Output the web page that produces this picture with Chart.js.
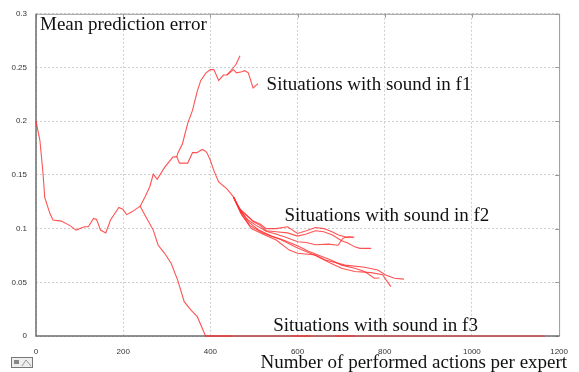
<!DOCTYPE html>
<html>
<head>
<meta charset="utf-8">
<script src="https://cdn.jsdelivr.net/npm/chart.js"></script>
<style>
  html, body { margin: 0; padding: 0; background: #ffffff; }
  #wrap { width: 579px; height: 372px; position: relative; }
</style>
</head>
<body>
<div id="wrap"><canvas id="c" width="579" height="372"></canvas></div>
<script>
// ---- data ----
const xTicks = [0, 200, 400, 600, 800, 1000, 1200];
const yTicks = [0, 0.05, 0.1, 0.15, 0.2, 0.25, 0.3];
const yTickLabels = ["0", "0.05", "0.1", "0.15", "0.2", "0.25", "0.3"];

const yTitle = "Mean prediction error";
const xTitle = "Number of performed actions per expert";
const labelF1 = "Situations with sound in f1";
const labelF2 = "Situations with sound in f2";
const labelF3 = "Situations with sound in f3";

// common start
const baseX = [0, 9, 16, 20, 32, 39, 58, 77, 92, 111, 120, 132, 139, 148, 160, 171, 190, 199, 208, 220, 239];
const baseY = [0.200, 0.182, 0.152, 0.129, 0.114, 0.108, 0.107, 0.103, 0.0986, 0.1017, 0.1017, 0.1095, 0.1085, 0.0986, 0.096, 0.108, 0.1197, 0.118, 0.113, 0.1156, 0.1209];

// f3 branch
const f3X = [239, 250, 269, 280, 295, 310, 325, 340, 355, 370, 389, 1167];
const f3Y = [0.1209, 0.1125, 0.0986, 0.0847, 0.077, 0.0677, 0.052, 0.032, 0.0244, 0.018, 0, 0];
// other f3 runs lying on zero
const f3bX = [389, 450];
const f3bY = [0, 0];
const f3cX = [585, 630];
const f3cY = [0, 0];
const f3dX = [686, 731];
const f3dY = [0, 0];

// f2 main branch
const f2X = [239, 250, 261, 269, 278, 295, 314, 323, 329, 348, 359, 369, 381, 389, 393, 400, 408, 419, 438, 453];
const f2Y = [0.1209, 0.1295, 0.139, 0.1506, 0.146, 0.157, 0.1666, 0.167, 0.161, 0.161, 0.1707, 0.1707, 0.1737, 0.172, 0.170, 0.1635, 0.154, 0.1434, 0.137, 0.1295];

// f1 branches
const f1X = [323, 325, 336, 348, 359, 370, 378, 390, 400, 408, 419, 430, 438, 453, 459, 468];
const f1Y = [0.167, 0.170, 0.179, 0.198, 0.210, 0.228, 0.238, 0.245, 0.248, 0.248, 0.238, 0.243, 0.243, 0.250, 0.253, 0.261];
const f1bX = [438, 453, 460, 472, 479, 487, 498, 509];
const f1bY = [0.243, 0.248, 0.245, 0.246, 0.247, 0.245, 0.231, 0.235];

// f2 bundle
const b1X = [453, 466, 478, 498, 515, 528, 551, 577, 600, 620, 641, 660, 679, 694, 713, 728];
const b1Y = [0.1295, 0.119, 0.1145, 0.107, 0.104, 0.100, 0.100, 0.1017, 0.0955, 0.098, 0.101, 0.100, 0.097, 0.094, 0.092, 0.092];
const b2X = [453, 468, 482, 500, 514, 528, 551, 577, 600, 620, 641, 660, 680, 700, 715, 731, 743, 769];
const b2Y = [0.1295, 0.117, 0.1125, 0.106, 0.103, 0.098, 0.097, 0.096, 0.093, 0.095, 0.098, 0.097, 0.094, 0.089, 0.0866, 0.083, 0.0816, 0.0816];
const b3X = [453, 470, 485, 505, 528, 550, 573, 600, 620, 641, 671, 693, 704, 716, 730];
const b3Y = [0.1295, 0.116, 0.1085, 0.103, 0.0976, 0.095, 0.092, 0.0877, 0.087, 0.085, 0.0855, 0.0845, 0.091, 0.0924, 0.092];
const b4X = [453, 472, 488, 510, 540, 570, 600, 625, 650, 675, 701, 731, 754, 776, 788];
const b4Y = [0.1295, 0.115, 0.106, 0.099, 0.093, 0.089, 0.084, 0.079, 0.075, 0.071, 0.066, 0.063, 0.060, 0.0538, 0.054];
const b5X = [453, 472, 494, 520, 551, 581, 600, 641, 664, 709, 754, 784, 802, 822, 844];
const b5Y = [0.1295, 0.113, 0.100, 0.095, 0.0893, 0.080, 0.077, 0.0754, 0.0708, 0.066, 0.064, 0.0615, 0.0569, 0.0538, 0.053];
const b6X = [453, 470, 490, 520, 560, 600, 641, 675, 701, 731, 769, 795, 806, 814];
const b6Y = [0.1295, 0.114, 0.103, 0.096, 0.090, 0.082, 0.075, 0.068, 0.063, 0.060, 0.059, 0.057, 0.0506, 0.046];

// ---- build ----
const series = [
  [baseX, baseY], [f3X, f3Y], [f3bX, f3bY], [f3cX, f3cY], [f3dX, f3dY],
  [f2X, f2Y], [f1X, f1Y], [f1bX, f1bY],
  [b1X, b1Y], [b2X, b2Y], [b3X, b3Y], [b4X, b4Y], [b5X, b5Y], [b6X, b6Y]
];
const LINE = 'rgba(255,45,45,0.82)';
const datasets = series.map(([xs, ys]) => ({
  data: xs.map((x, i) => ({ x: x, y: ys[i] })),
  borderColor: LINE,
  borderWidth: 1.1,
  pointRadius: 0,
  tension: 0,
  fill: false,
  clip: false
}));

const SERIF = '"Liberation Serif", "Times New Roman", serif';
const SANS = '"Liberation Sans", Arial, sans-serif';

const annotations = [
  { text: labelF1, x: 529, y: 0.2294 },
  { text: labelF2, x: 570, y: 0.107 },
  { text: labelF3, x: 544, y: 0.0049 }
];

const framePlugin = {
  id: 'frame',
  beforeDatasetsDraw(chart) {
    const { ctx, chartArea: a, scales } = chart;
    ctx.save();
    ctx.lineWidth = 1;
    ctx.strokeStyle = '#9a9a9a';
    ctx.beginPath();
    ctx.moveTo(a.left, a.top + 0.5); ctx.lineTo(a.right + 0.5, a.top + 0.5);
    ctx.lineTo(a.right + 0.5, a.bottom);
    ctx.stroke();
    // inner ticks on top and right
    ctx.beginPath();
    xTicks.forEach(v => {
      const px = Math.round(scales.x.getPixelForValue(v)) + 0.5;
      ctx.moveTo(px, a.top); ctx.lineTo(px, a.top + 4);
    });
    yTicks.forEach(v => {
      const py = Math.round(scales.y.getPixelForValue(v)) + 0.5;
      ctx.moveTo(a.right, py); ctx.lineTo(a.right - 4, py);
    });
    ctx.stroke();
    // left & bottom axes
    ctx.strokeStyle = '#6e6e6e';
    ctx.lineWidth = 1.5;
    ctx.beginPath();
    ctx.moveTo(a.left, a.top); ctx.lineTo(a.left, a.bottom);
    ctx.lineTo(a.right + 0.5, a.bottom);
    ctx.stroke();
    ctx.restore();
  },
  afterDraw(chart) {
    const { ctx, chartArea: a, scales } = chart;
    ctx.save();
    ctx.fillStyle = '#111';
    ctx.font = '19px ' + SERIF;
    ctx.textBaseline = 'alphabetic';
    ctx.textAlign = 'left';
    ctx.fillText(yTitle, a.left + 4, a.top + 16);
    annotations.forEach(an => {
      ctx.fillText(an.text, scales.x.getPixelForValue(an.x), scales.y.getPixelForValue(an.y));
    });
    ctx.textAlign = 'right';
    ctx.fillText(xTitle, a.right + 8, chart.height - 4);
    // small icon at bottom-left
    ctx.fillStyle = '#eeeeee';
    ctx.fillRect(11, 357, 21, 10);
    ctx.strokeStyle = '#777';
    ctx.lineWidth = 1;
    ctx.strokeRect(11.5, 357.5, 21, 10);
    ctx.strokeStyle = '#999';
    ctx.beginPath();
    ctx.moveTo(22, 366); ctx.lineTo(26, 360); ctx.lineTo(31, 366);
    ctx.stroke();
    ctx.fillStyle = '#888';
    ctx.fillRect(14, 360, 5, 4);
    ctx.restore();
  }
};

new Chart(document.getElementById('c'), {
  type: 'line',
  data: { datasets: datasets },
  options: {
    responsive: false,
    animation: false,
    devicePixelRatio: 1,
    layout: { padding: { top: 13, right: 12, left: 0, bottom: 0 } },
    plugins: { legend: { display: false }, tooltip: { enabled: false } },
    scales: {
      x: {
        type: 'linear',
        min: 0, max: 1200,
        afterFit(s) { s.height = 36; },
        afterBuildTicks(s) { s.ticks = xTicks.map(v => ({ value: v })); },
        ticks: {
          padding: 11,
          color: '#333',
          font: { family: SANS, size: 8 },
          maxRotation: 0,
          callback: v => String(v)
        },
        grid: { color: '#cfcfcf', drawTicks: false, lineWidth: 1 },
        border: { display: false, dash: [2, 2] }
      },
      y: {
        type: 'linear',
        min: 0, max: 0.3,
        afterFit(s) { s.width = 36; },
        afterBuildTicks(s) { s.ticks = yTicks.map(v => ({ value: v })); },
        ticks: {
          padding: 9,
          color: '#333',
          font: { family: SANS, size: 8 },
          callback: v => {
            const i = yTicks.findIndex(t => Math.abs(t - v) < 1e-9);
            return i >= 0 ? yTickLabels[i] : '';
          }
        },
        grid: { color: '#cfcfcf', drawTicks: false, lineWidth: 1 },
        border: { display: false, dash: [2, 2] }
      }
    }
  },
  plugins: [framePlugin]
});
</script>
</body>
</html>
